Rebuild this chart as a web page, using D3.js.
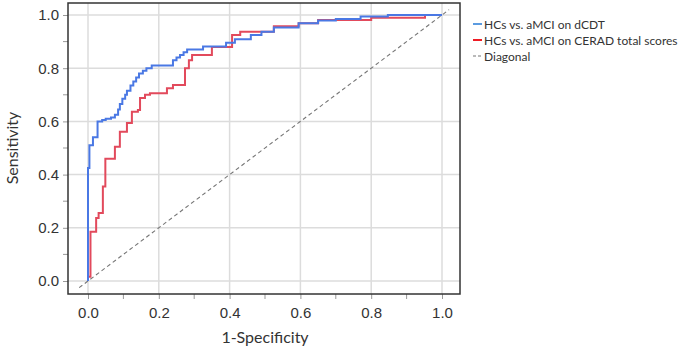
<!DOCTYPE html>
<html>
<head>
<meta charset="utf-8">
<script src="https://cdn.jsdelivr.net/npm/d3@7"></script>
<style>
  body { margin: 0; background: #fff; }
  svg { display: block; font-family: Lato, "Open Sans", sans-serif; }
</style>
</head>
<body>
<svg id="chart" width="685" height="350"></svg>
<script>
// ROC operating points (1-specificity, sensitivity)
var dcdtFpr = [0, 0, 0.004, 0.014, 0.027, 0.04, 0.05, 0.065, 0.076, 0.085, 0.09, 0.097, 0.105, 0.11,
  0.12, 0.128, 0.136, 0.144, 0.155, 0.165, 0.18, 0.24, 0.25, 0.26, 0.27, 0.28, 0.325, 0.39, 0.415,
  0.46, 0.49, 0.525, 0.595, 0.65, 0.70, 0.77, 0.847, 1.0]
var dcdtTpr = [0, 0.425, 0.51, 0.54, 0.60, 0.605, 0.61, 0.615, 0.625, 0.645, 0.665, 0.685, 0.70, 0.715,
  0.735, 0.75, 0.765, 0.78, 0.79, 0.80, 0.81, 0.83, 0.84, 0.85, 0.86, 0.87, 0.882, 0.896, 0.909,
  0.925, 0.937, 0.953, 0.969, 0.979, 0.985, 0.994, 1.0, 1.0]

var ceradFpr = [0, 0, 0.007, 0.023, 0.03, 0.042, 0.049, 0.076, 0.09, 0.11, 0.124, 0.141, 0.147, 0.161,
  0.175, 0.223, 0.24, 0.274, 0.285, 0.294, 0.35, 0.407, 0.43, 0.525, 0.595, 0.65, 0.80, 0.952, 1.0]
var ceradTpr = [0, 0.016, 0.185, 0.237, 0.256, 0.355, 0.46, 0.505, 0.561, 0.594, 0.636, 0.643, 0.688, 0.70,
  0.706, 0.725, 0.737, 0.80, 0.83, 0.85, 0.88, 0.925, 0.937, 0.958, 0.969, 0.981, 0.99, 1.0, 1.0]

var diagonal = [-0.025, 1.02]

var tickValues = [0, 0.2, 0.4, 0.6, 0.8, 1.0]
var minorTicks = [0.1, 0.3, 0.5, 0.7, 0.9]

var legendLabels = ["HCs vs. aMCI on dCDT", "HCs vs. aMCI on CERAD total scores", "Diagonal"]

var blue = "#4a78e4", red = "#e24a5c"

var svg = d3.select("#chart")

// plot frame
var frame = { left: 68, right: 460, top: 3, bottom: 294 }

var x = d3.scaleLinear().domain([0, 1]).range([88, 442])
var y = d3.scaleLinear().domain([0, 1]).range([281, 15])

// gridlines
var grid = svg.append("g")
grid.selectAll(".gx").data(tickValues).enter().append("line")
  .attr("x1", function (d) { return x(d) }).attr("x2", function (d) { return x(d) })
  .attr("y1", frame.top).attr("y2", frame.bottom)
  .attr("stroke", "#dcdcdc").attr("stroke-width", 1.5)
grid.selectAll(".gy").data(tickValues).enter().append("line")
  .attr("y1", function (d) { return y(d) }).attr("y2", function (d) { return y(d) })
  .attr("x1", frame.left).attr("x2", frame.right)
  .attr("stroke", "#dcdcdc").attr("stroke-width", 1.5)

// axes, ticks outside the frame
var xAxis = d3.axisBottom(x).tickValues(tickValues).tickFormat(d3.format(".1f")).tickSize(5).tickPadding(8)
var yAxis = d3.axisLeft(y).tickValues(tickValues).tickFormat(d3.format(".1f")).tickSize(5).tickPadding(4)

var gx = svg.append("g").attr("transform", "translate(0," + frame.bottom + ")").call(xAxis)
var gy = svg.append("g").attr("transform", "translate(" + frame.left + ",0)").call(yAxis)
;[gx, gy].forEach(function (g) {
  g.select(".domain").remove()
  g.selectAll(".tick line").attr("stroke", "#999")
  g.selectAll(".tick text").attr("fill", "#333").attr("font-size", 15)
})

gx.selectAll(".minor").data(minorTicks).enter().append("line")
  .attr("x1", function (d) { return x(d) }).attr("x2", function (d) { return x(d) })
  .attr("y1", 0).attr("y2", 5).attr("stroke", "#999")
gy.selectAll(".minor").data(minorTicks).enter().append("line")
  .attr("y1", function (d) { return y(d) }).attr("y2", function (d) { return y(d) })
  .attr("x1", 0).attr("x2", -5).attr("stroke", "#999")

// clip curves to frame
svg.append("clipPath").attr("id", "clip").append("rect")
  .attr("x", frame.left).attr("y", frame.top)
  .attr("width", frame.right - frame.left).attr("height", frame.bottom - frame.top)

var plot = svg.append("g").attr("clip-path", "url(#clip)")

plot.append("line")
  .attr("x1", x(diagonal[0])).attr("y1", y(diagonal[0]))
  .attr("x2", x(diagonal[1])).attr("y2", y(diagonal[1]))
  .attr("stroke", "#777").attr("stroke-width", 1.1).attr("stroke-dasharray", "4,3")

var step = d3.line()
  .x(function (d) { return x(d[0]) })
  .y(function (d) { return y(d[1]) })
  .curve(d3.curveStepAfter)

plot.append("path").datum(d3.zip(ceradFpr, ceradTpr))
  .attr("d", step).attr("fill", "none").attr("stroke", red).attr("stroke-width", 2)
plot.append("path").datum(d3.zip(dcdtFpr, dcdtTpr))
  .attr("d", step).attr("fill", "none").attr("stroke", blue).attr("stroke-width", 2)

// frame border
svg.append("rect")
  .attr("x", frame.left).attr("y", frame.top)
  .attr("width", frame.right - frame.left).attr("height", frame.bottom - frame.top)
  .attr("fill", "none").attr("stroke", "#333").attr("stroke-width", 1.5)

// axis titles
svg.append("text").attr("x", x(0.5)).attr("y", 343).attr("text-anchor", "middle")
  .attr("font-size", 16).attr("fill", "#333").text("1-Specificity")
svg.append("text").attr("transform", "translate(11," + y(0.5) + ") rotate(-90)")
  .attr("text-anchor", "middle").attr("dominant-baseline", "central")
  .attr("font-size", 16).attr("fill", "#333").text("Sensitivity")

// legend
var legendColors = ["#5b9be0", "#ee1c24", "#777"]
var legend = svg.append("g").attr("transform", "translate(473,24)")
var rows = legend.selectAll("g").data(legendLabels).enter().append("g")
  .attr("transform", function (d, i) { return "translate(0," + i * 16 + ")" })
rows.append("line").attr("x1", 0).attr("x2", 9).attr("y1", 0).attr("y2", 0)
  .attr("stroke", function (d, i) { return legendColors[i] })
  .attr("stroke-width", function (d, i) { return i < 2 ? 2 : 1.2 })
  .attr("stroke-dasharray", function (d, i) { return i === 2 ? "3,2" : null })
rows.append("text").attr("x", 11).attr("y", 0).attr("dominant-baseline", "central")
  .attr("font-size", 12).attr("fill", "#333").text(function (d) { return d })
</script>
</body>
</html>
